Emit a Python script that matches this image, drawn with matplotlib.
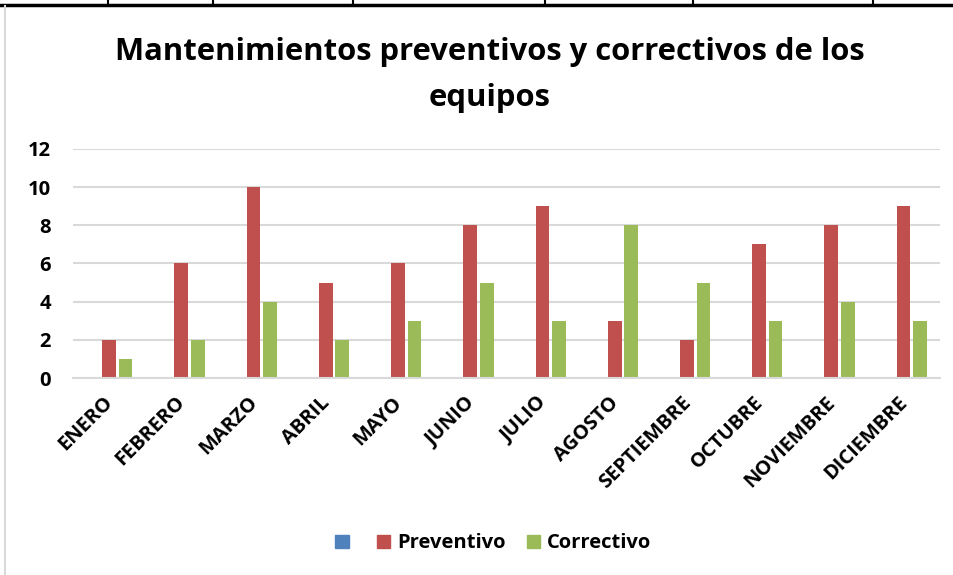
import matplotlib.pyplot as plt
import matplotlib
import matplotlib.transforms as mtransforms
import numpy as np
from matplotlib.patches import Patch
from matplotlib.lines import Line2D

meses = ["ENERO", "FEBRERO", "MARZO", "ABRIL", "MAYO", "JUNIO", "JULIO",
         "AGOSTO", "SEPTIEMBRE", "OCTUBRE", "NOVIEMBRE", "DICIEMBRE"]
serie1 = [0, 0, 0, 0, 0, 0, 0, 0, 0, 0, 0, 0]
preventivo = [2, 6, 10, 5, 6, 8, 9, 3, 2, 7, 8, 9]
correctivo = [1, 2, 4, 2, 3, 5, 3, 8, 5, 3, 4, 3]

azul = "#4f81bd"
rojo = "#c0504d"
verde = "#9bbb59"

matplotlib.rcParams['font.family'] = ['Open Sans', 'DejaVu Sans']
matplotlib.rcParams['font.weight'] = 'bold'

fig = plt.figure(figsize=(9.54, 5.75), dpi=100)
ax = fig.add_axes([0.0765, 0.3426, 0.9085, 0.3983])

x = np.arange(len(meses))
w = 0.19
off = 0.228
ax.bar(x - off, serie1, w, color=azul)
ax.bar(x, preventivo, w, color=rojo)
ax.bar(x + off, correctivo, w, color=verde)

ax.set_xlim(-0.5, len(meses) - 0.5)
ax.set_ylim(0, 12)
ax.set_yticks(range(0, 13, 2))
ax.yaxis.grid(True, color="#d9d9d9", linewidth=1.5)
ax.set_axisbelow(True)
for s in ["top", "right", "left"]:
    ax.spines[s].set_visible(False)
ax.spines["bottom"].set_color("#d9d9d9")
ax.spines["bottom"].set_linewidth(1.5)
ax.tick_params(axis="both", length=0)
ax.tick_params(axis="y", pad=16, labelsize=14.5)
ax.set_xticks(x)
ax.set_xticklabels(meses, rotation=45, ha="right", rotation_mode="anchor",
                   fontsize=14.5, fontweight="bold")
ax.tick_params(axis="x", pad=12)
desplaza = mtransforms.ScaledTranslation(-6 / 100, 2 / 100, fig.dpi_scale_trans)
for lab in ax.get_xticklabels():
    lab.set_transform(lab.get_transform() + desplaza)
for lab in ax.get_yticklabels():
    lab.set_fontweight("bold")

fig.text(0.513, 0.870, "Mantenimientos preventivos y correctivos de los\nequipos",
         ha="center", va="center", fontsize=22.3, fontweight="bold",
         linespacing=1.68)

handles = [Patch(color=azul), Patch(color=rojo), Patch(color=verde)]
fig.legend(handles, ["", "Preventivo", "Correctivo"], loc="center",
           bbox_to_anchor=(0.517, 0.055), ncol=3, frameon=False,
           prop={"size": 14.5, "weight": "bold"}, handlelength=0.65,
           handleheight=0.65, handletextpad=0.35, columnspacing=1.05)

# bordes de la hoja de cálculo
fig.add_artist(Line2D([0, 1], [0.992, 0.992], color="black", lw=2.5,
                      transform=fig.transFigure))
for xv in [108, 213, 353, 545, 693, 873]:
    fig.add_artist(Line2D([xv / 954, xv / 954], [0.992, 1], color="black",
                          lw=1.5, transform=fig.transFigure))
fig.add_artist(Line2D([5 / 954, 5 / 954], [0, 0.99], color="#d9d9d9",
                      lw=1.5, transform=fig.transFigure))

plt.savefig("out.png", dpi=100)
